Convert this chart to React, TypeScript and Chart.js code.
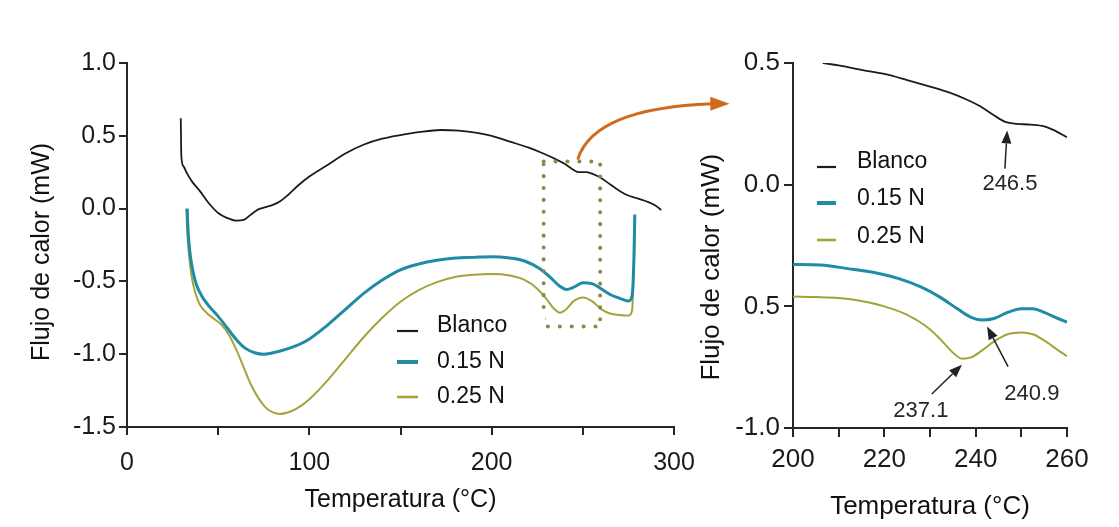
import React, { useEffect, useRef } from 'react';
import { Chart, registerables } from 'chart.js';

Chart.register(...registerables);

const FONT = '"Liberation Sans", Arial, Helvetica, sans-serif';
Chart.defaults.font.family = FONT;
Chart.defaults.color = '#1a1a1a';

// ---------- series identity ----------
const seriesNames = ['Blanco', '0.15 N', '0.25 N'];
const seriesColors = ['#1c1c1c', '#1f8ba4', '#a3a33a'];
const seriesWidths = [1.8, 3, 2];
const legendSampleWidths = [2.2, 4, 2.6];

// ---------- main panel data ----------
const blancoTemp = [29.5, 29.8, 31, 33, 36, 40, 45, 50, 55, 60, 64, 68, 72, 76, 80, 84, 88, 94, 100, 110, 120, 130, 140, 150, 160, 172, 182, 192, 200, 210, 220, 228, 235, 241, 245, 248, 252, 256, 260, 264, 268, 274, 280, 286, 290, 293];
const blancoFlow = [0.62, 0.36, 0.29, 0.24, 0.18, 0.12, 0.035, -0.03, -0.065, -0.083, -0.078, -0.04, -0.005, 0.01, 0.025, 0.05, 0.09, 0.16, 0.22, 0.3, 0.38, 0.44, 0.48, 0.505, 0.525, 0.54, 0.535, 0.52, 0.5, 0.46, 0.42, 0.38, 0.34, 0.3, 0.265, 0.25, 0.25, 0.235, 0.21, 0.175, 0.14, 0.095, 0.07, 0.045, 0.02, -0.01];

const n015Temp = [33, 33.5, 34.5, 36, 38, 41, 45, 50, 55, 60, 65, 70, 75, 80, 85, 90, 95, 100, 110, 120, 130, 140, 150, 160, 170, 180, 190, 200, 210, 218, 226, 232, 237, 241, 245, 250, 255, 260, 265, 270, 275, 277, 278, 278.5];
const n015Flow = [0.0, -0.15, -0.3, -0.42, -0.52, -0.6, -0.67, -0.74, -0.82, -0.9, -0.96, -0.99, -1.0, -0.99, -0.975, -0.955, -0.93, -0.895, -0.8, -0.69, -0.58, -0.49, -0.42, -0.38, -0.355, -0.34, -0.335, -0.33, -0.34, -0.36, -0.41, -0.47, -0.53, -0.555, -0.54, -0.51, -0.515, -0.55, -0.59, -0.615, -0.635, -0.6, -0.35, -0.04];

const n025Temp = [32.5, 33, 34, 35.5, 37.5, 40, 44, 48, 52, 56, 60, 64, 68, 72, 76, 80, 84, 88, 92, 96, 100, 110, 120, 130, 140, 150, 160, 170, 180, 190, 200, 210, 218, 225, 230, 234, 237.5, 241, 245, 250, 255, 260, 265, 270, 275, 277, 278, 278.5];
const n025Flow = [0.0, -0.15, -0.32, -0.47, -0.58, -0.66, -0.72, -0.76, -0.8, -0.87, -0.97, -1.09, -1.21, -1.3, -1.365, -1.4, -1.41, -1.4, -1.38, -1.35, -1.31, -1.18, -1.03, -0.88, -0.75, -0.64, -0.56, -0.505, -0.47, -0.455, -0.45, -0.46, -0.49, -0.55, -0.62, -0.685, -0.715, -0.69, -0.635, -0.61, -0.635, -0.69, -0.72, -0.73, -0.735, -0.7, -0.4, -0.15];

const mainXTickValues = [0, 50, 100, 150, 200, 250, 300];
const mainXTickLabels = ['0', '', '100', '', '200', '', '300'];
const mainYTickValues = [-1.5, -1.0, -0.5, 0.0, 0.5, 1.0];
const mainYTickLabels = ['-1.5', '-1.0', '-0.5', '0.0', '0.5', '1.0'];

// ---------- inset panel data ----------
const insetBlancoTemp = [206.5, 210, 215, 220, 225, 230, 234, 238, 241, 244, 246.5, 249, 252, 255, 257, 260];
const insetBlancoFlow = [0.5, 0.49, 0.472, 0.455, 0.43, 0.403, 0.38, 0.35, 0.322, 0.285, 0.258, 0.25, 0.247, 0.24, 0.225, 0.195];

const insetN015Temp = [200, 206, 212, 218, 223, 228, 232, 236, 239, 241.5, 244, 247, 250, 252.5, 255, 258, 260];
const insetN015Flow = [-0.328, -0.33, -0.345, -0.362, -0.385, -0.42, -0.46, -0.51, -0.545, -0.556, -0.55, -0.525, -0.51, -0.51, -0.525, -0.55, -0.565];

const insetN025Temp = [200, 205, 210, 215, 220, 225, 229, 232, 235, 237, 239, 241.5, 244, 247, 250, 252.5, 255, 258, 260];
const insetN025Flow = [-0.46, -0.462, -0.466, -0.478, -0.5, -0.535, -0.58, -0.63, -0.69, -0.715, -0.71, -0.68, -0.645, -0.615, -0.608, -0.615, -0.64, -0.68, -0.705];

const insetXTickValues = [200, 210, 220, 230, 240, 250, 260];
const insetXTickLabels = ['200', '', '220', '', '240', '', '260'];
const insetYTickValues = [-1.0, -0.5, 0.0, 0.5];
const insetYTickLabels = ['-1.0', '0.5', '0.0', '0.5'];

// peak annotations (inset)
const peakLabels = ['246.5', '237.1', '240.9'];
const peakTextTemp = [247.5, 228.0, 252.3];
const peakTextFlow = [0.004, -0.928, -0.862];
const peakTailTemp = [246.4, 230.4, 247.1];
const peakTailFlow = [0.066, -0.86, -0.748];
const peakHeadTemp = [246.9, 237.0, 242.5];
const peakHeadFlow = [0.223, -0.74, -0.583];

// zoom window in main panel
const zoomBoxTemp = [228.5, 259.5];
const zoomBoxFlow = [0.323, -0.81];
// orange link arrow (start, control, shaft end, tip) in main-panel coordinates
const linkTemp = [247.4, 256.5, 321, 330.5];
const linkFlow = [0.345, 0.69, 0.72, 0.72];

const AXIS_COLOR = '#262626';

function pick(values: number[], labels: string[], v: number) {
  for (let i = 0; i < values.length; i++) if (Math.abs(values[i] - v) < 1e-6) return labels[i];
  return '';
}

function makeDatasets(temps: number[][], flows: number[][]) {
  return seriesNames.map((name, k) => ({
    label: name,
    data: temps[k].map((t, i) => ({ x: t, y: flows[k][i] })),
    borderColor: seriesColors[k],
    backgroundColor: seriesColors[k],
    borderWidth: seriesWidths[k],
    pointRadius: 0,
    fill: false,
    cubicInterpolationMode: 'monotone' as const,
  }));
}

function drawLegend(chart: any, box: number[], sampleX: number[], textX: number, rowY: number[], sampleDy: number[], size: number) {
  const ctx = chart.ctx as CanvasRenderingContext2D;
  ctx.save();
  ctx.fillStyle = '#ffffff';
  ctx.fillRect(box[0], box[1], box[2], box[3]);
  chart.data.datasets.forEach((ds: any, k: number) => {
    ctx.strokeStyle = ds.borderColor;
    ctx.lineWidth = legendSampleWidths[k];
    ctx.beginPath();
    ctx.moveTo(sampleX[0], rowY[k] + sampleDy[k]);
    ctx.lineTo(sampleX[1], rowY[k] + sampleDy[k]);
    ctx.stroke();
    ctx.fillStyle = '#111';
    ctx.font = `${size}px ${FONT}`;
    ctx.textAlign = 'left';
    ctx.textBaseline = 'middle';
    ctx.fillText(ds.label, textX, rowY[k]);
  });
  ctx.restore();
}

function arrow(ctx: CanvasRenderingContext2D, x0: number, y0: number, x1: number, y1: number, head: number, half: number) {
  const a = Math.atan2(y1 - y0, x1 - x0);
  const bx = x1 - head * Math.cos(a);
  const by = y1 - head * Math.sin(a);
  ctx.beginPath();
  ctx.moveTo(x0, y0);
  ctx.lineTo(bx, by);
  ctx.stroke();
  ctx.beginPath();
  ctx.moveTo(x1, y1);
  ctx.lineTo(bx + half * Math.sin(a), by - half * Math.cos(a));
  ctx.lineTo(bx - half * Math.sin(a), by + half * Math.cos(a));
  ctx.closePath();
  ctx.fill();
}

const mainDecor = {
  id: 'mainDecor',
  afterDatasetsDraw(chart: any) {
    const ctx = chart.ctx as CanvasRenderingContext2D;
    const xs = chart.scales.x;
    const ys = chart.scales.y;
    const x0 = xs.getPixelForValue(zoomBoxTemp[0]);
    const x1 = xs.getPixelForValue(zoomBoxTemp[1]);
    const y0 = ys.getPixelForValue(zoomBoxFlow[0]);
    const y1 = ys.getPixelForValue(zoomBoxFlow[1]);
    ctx.save();
    ctx.strokeStyle = '#8e8848';
    ctx.lineWidth = 4;
    ctx.lineCap = 'round';
    ctx.setLineDash([0.1, 11.8]);
    ctx.strokeRect(x0, y0, x1 - x0, y1 - y0);
    ctx.restore();
    drawLegend(chart, [392, 312, 153, 108], [397, 418], 437, [326, 362, 397], [5, 0, 0], 23);
  },
  afterDraw(chart: any) {
    const ctx = chart.ctx as CanvasRenderingContext2D;
    const xs = chart.scales.x;
    const ys = chart.scales.y;
    const p = linkTemp.map((t, i) => [xs.getPixelForValue(t), ys.getPixelForValue(linkFlow[i])]);
    ctx.save();
    ctx.strokeStyle = '#cf6b1f';
    ctx.fillStyle = '#cf6b1f';
    ctx.lineWidth = 3;
    ctx.lineCap = 'round';
    ctx.beginPath();
    ctx.moveTo(p[0][0], p[0][1]);
    ctx.quadraticCurveTo(p[1][0], p[1][1], p[2][0], p[2][1]);
    ctx.stroke();
    ctx.beginPath();
    ctx.moveTo(p[3][0], p[3][1]);
    ctx.lineTo(p[2][0] - 2, p[2][1] - 7);
    ctx.lineTo(p[2][0] - 2, p[2][1] + 7);
    ctx.closePath();
    ctx.fill();
    ctx.restore();
  },
};

const insetDecor = {
  id: 'insetDecor',
  afterDatasetsDraw(chart: any) {
    const ctx = chart.ctx as CanvasRenderingContext2D;
    const xs = chart.scales.x;
    const ys = chart.scales.y;
    drawLegend(chart, [110, 140, 165, 122], [127, 146], 167, [162, 199, 237], [5, 4, 3], 23);
    ctx.save();
    ctx.lineWidth = 1.5;
    peakLabels.forEach((lab, i) => {
      ctx.strokeStyle = '#222';
      ctx.fillStyle = '#222';
      arrow(
        ctx,
        xs.getPixelForValue(peakTailTemp[i]), ys.getPixelForValue(peakTailFlow[i]),
        xs.getPixelForValue(peakHeadTemp[i]), ys.getPixelForValue(peakHeadFlow[i]),
        13, 5,
      );
      ctx.font = `22px ${FONT}`;
      ctx.fillStyle = '#262626';
      ctx.textAlign = 'center';
      ctx.textBaseline = 'middle';
      ctx.fillText(lab, xs.getPixelForValue(peakTextTemp[i]), ys.getPixelForValue(peakTextFlow[i]));
    });
    ctx.restore();
  },
};

function axisCommon(tickSize: number, tickLen: number, pad: number) {
  return {
    grid: { display: true, drawOnChartArea: false, drawTicks: true, tickLength: tickLen, color: AXIS_COLOR, lineWidth: 2 },
    border: { display: true, color: AXIS_COLOR, width: 2 },
    ticks: { font: { size: tickSize }, color: '#1a1a1a', padding: pad, autoSkip: false, maxRotation: 0 },
  };
}

function mainConfig(): any {
  const xc = axisCommon(25, 8, 13);
  const yc = axisCommon(25, 8, 3);
  return {
    type: 'line',
    data: { datasets: makeDatasets([blancoTemp, n015Temp, n025Temp], [blancoFlow, n015Flow, n025Flow]) },
    options: {
      animation: false,
      responsive: true,
      maintainAspectRatio: false,
      layout: { padding: { left: 23, top: 63, right: 71, bottom: 8 } },
      plugins: { legend: { display: false }, tooltip: { enabled: false } },
      scales: {
        x: {
          type: 'linear', min: 0, max: 300,
          ...xc,
          ticks: { ...xc.ticks, stepSize: 50, callback: (v: number) => pick(mainXTickValues, mainXTickLabels, v) },
          title: { display: true, text: 'Temperatura (°C)', font: { size: 25 }, color: '#111', padding: { top: 4, bottom: 4 } },
          afterFit: (s: any) => { s.height = 92; },
        },
        y: {
          type: 'linear', min: -1.5, max: 1.0,
          ...yc,
          ticks: { ...yc.ticks, stepSize: 0.5, callback: (v: number) => pick(mainYTickValues, mainYTickLabels, v) },
          title: { display: true, text: 'Flujo de calor (mW)  ', font: { size: 25 }, color: '#111', padding: { top: 4, bottom: 4 } },
          afterFit: (s: any) => { s.width = 104; },
        },
      },
    },
    plugins: [mainDecor],
  };
}

function insetConfig(): any {
  const xc = axisCommon(26, 9, 7);
  const yc = axisCommon(26, 9, 4);
  return {
    type: 'line',
    data: { datasets: makeDatasets([insetBlancoTemp, insetN015Temp, insetN025Temp], [insetBlancoFlow, insetN015Flow, insetN025Flow]) },
    options: {
      animation: false,
      responsive: true,
      maintainAspectRatio: false,
      layout: { padding: { left: 2.4, top: 63, right: 52, bottom: 0.4 } },
      plugins: { legend: { display: false }, tooltip: { enabled: false } },
      scales: {
        x: {
          type: 'linear', min: 200, max: 260,
          ...xc,
          ticks: { ...xc.ticks, stepSize: 10, callback: (v: number) => pick(insetXTickValues, insetXTickLabels, v) },
          title: { display: true, text: 'Temperatura (°C)', font: { size: 26 }, color: '#111', padding: { top: 4, bottom: 4 } },
          afterFit: (s: any) => { s.height = 98.6; },
        },
        y: {
          type: 'linear', min: -1.0, max: 0.5,
          ...yc,
          ticks: { ...yc.ticks, stepSize: 0.5, callback: (v: number) => pick(insetYTickValues, insetYTickLabels, v) },
          title: { display: true, text: 'Flujo de calor (mW)      ', font: { size: 26 }, color: '#111', padding: { top: 4, bottom: 4 } },
          afterFit: (s: any) => { s.width = 100.6; },
        },
      },
    },
    plugins: [insetDecor],
  };
}

export default function App() {
  const mainRef = useRef<HTMLCanvasElement>(null);
  const insetRef = useRef<HTMLCanvasElement>(null);
  useEffect(() => {
    const a = new Chart(mainRef.current as HTMLCanvasElement, mainConfig());
    const b = new Chart(insetRef.current as HTMLCanvasElement, insetConfig());
    return () => { a.destroy(); b.destroy(); };
  }, []);
  return (
    <div style={{ position: 'fixed', left: 0, top: 0, width: 1119, height: 527, background: '#ffffff', overflow: 'hidden' }}>
      <div style={{ position: 'absolute', left: 0, top: 0, width: 745, height: 527 }}>
        <canvas ref={mainRef} />
      </div>
      <div style={{ position: 'absolute', left: 690, top: 0, width: 429, height: 527 }}>
        <canvas ref={insetRef} />
      </div>
    </div>
  );
}
